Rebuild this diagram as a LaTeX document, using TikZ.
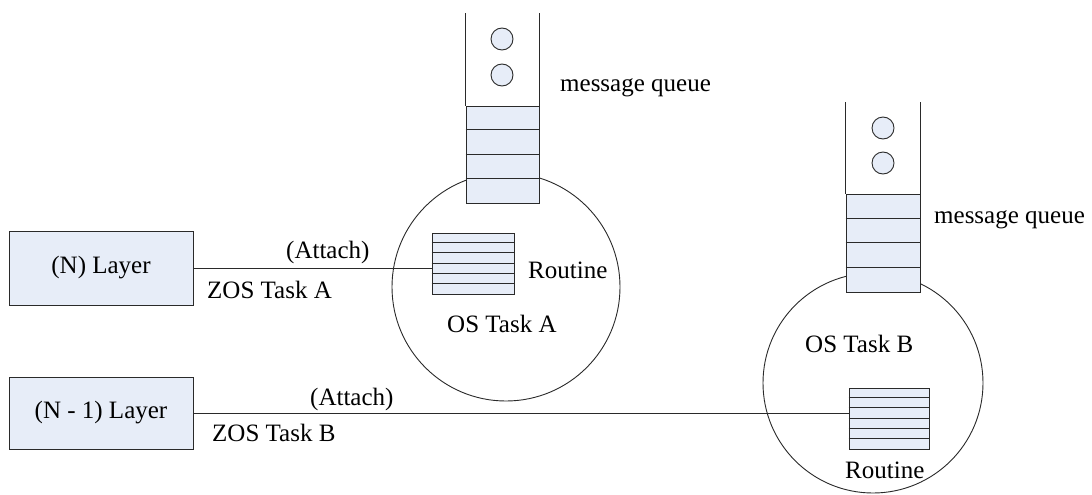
\documentclass[tikz,border=0pt]{standalone}
\usepackage{fontspec}
\setmainfont{Liberation Serif}
\definecolor{cellblue}{HTML}{E7EDF8}
\definecolor{ink}{HTML}{2A2A2A}
\begin{document}
\begin{tikzpicture}[x=1pt,y=-1pt,
  every node/.style={font=\fontsize{25}{30}\selectfont},
  outline/.style={draw=ink, line width=0.9pt},
  cell/.style={outline, fill=cellblue},
  layerbox/.style={cell, minimum width=184pt, inner sep=0pt},
  txt/.style={inner sep=0pt, anchor=base west},
  routinebox/.style={cell, minimum width=82pt, minimum height=61pt, inner sep=0pt},
  queuebox/.style={cell, inner sep=0pt},
  taskcircle/.style={outline, fill=white, circle, inner sep=0pt},
  token/.style={outline, fill=cellblue, circle, minimum size=22pt, inner sep=0pt},
  wire/.style={draw=ink, line width=0.9pt}]
\useasboundingbox (0,0) rectangle (1092,495);

% OS tasks
\node[taskcircle, minimum size=228pt] (ca) at (506,287) {};
\node[taskcircle, minimum size=220pt] (cb) at (873,383) {};

% routines inside the tasks
\node[routinebox] (ra) at (473,263.5) {};
\node[routinebox, minimum width=80pt] (rb) at (889,418.5) {};
\foreach \k in {1,...,5} {
  \draw[outline] (ra.north west) ++(0,{\k*61/6}) -- ++(82,0);
  \draw[outline] (rb.north west) ++(0,{\k*61/6}) -- ++(80,0);
}

% layers
\node[layerbox, minimum height=74pt] (nl) at (101,268) {(N) Layer};
\node[layerbox, minimum height=72pt] (nl1) at (101,413) {(N - 1) Layer};

% attach connectors
\draw[wire] (nl.east) -- (nl.east -| ra.west);
\draw[wire] (nl1.east) -- (nl1.east -| rb.west);

% message queues
\node[queuebox, minimum width=73pt, minimum height=97pt] (qa) at (502.5,154.5) {};
\foreach \k in {1,2,3} \draw[outline] (qa.north west) ++(0,{\k*97/4}) -- ++(73,0);
\draw[outline] (qa.north west) -- ++(0,-93);
\draw[outline] (qa.north east) -- ++(0,-93);
\node[token] (ta1) at (502,39) {};
\node[token] (ta2) at (502,75) {};

\node[queuebox, minimum width=74pt, minimum height=98pt] (qb) at (883,243) {};
\foreach \k in {1,2,3} \draw[outline] (qb.north west) ++(0,{\k*98/4}) -- ++(74,0);
\draw[outline] (qb.north west) -- ++(0,-92);
\draw[outline] (qb.north east) -- ++(0,-92);
\node[token] (tb1) at (883,128) {};
\node[token] (tb2) at (883,163) {};

% labels
\node[txt] (atta) at (286,258) {(Attach)};
\node[txt] (zosa) at (207,298) {ZOS Task A};
\node[txt] (attb) at (310,405) {(Attach)};
\node[txt] (zosb) at (212,441) {ZOS Task B};
\node[txt] (mqa) at (560,92) {message queue};
\node[txt] (mqb) at (934,223) {message queue};
\node[txt] (rta) at (528,278) {Routine};
\node[txt] (osa) at (447,332) {OS Task A};
\node[txt] (osb) at (805,352) {OS Task B};
\node[txt] (rtb) at (845,478) {Routine};
\end{tikzpicture}
\end{document}
